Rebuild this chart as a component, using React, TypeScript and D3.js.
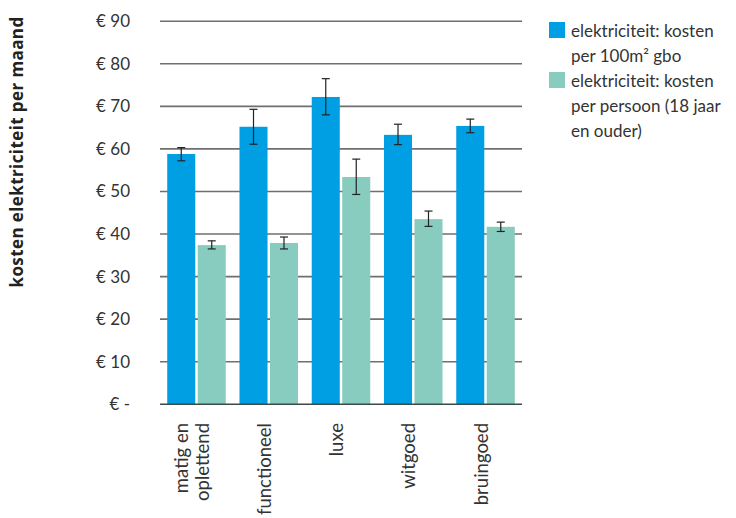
import React from "react";
import * as d3 from "d3";

const categories = ["matig en oplettend", "functioneel", "luxe", "witgoed", "bruingoed"];
const categoryLines = [["matig en", "oplettend"], ["functioneel"], ["luxe"], ["witgoed"], ["bruingoed"]];
const seriesNames = ["elektriciteit: kosten per 100m² gbo", "elektriciteit: kosten per persoon (18 jaar en ouder)"];
const legendLines = [["elektriciteit: kosten", "per 100m² gbo"], ["elektriciteit: kosten", "per persoon (18 jaar", "en ouder)"]];
const perArea = [58.8, 65.2, 72.2, 63.3, 65.4];
const perAreaLow = [57.2, 61.1, 68.0, 61.0, 63.8];
const perAreaHigh = [60.3, 69.3, 76.5, 65.8, 67.0];
const perPerson = [37.4, 37.9, 53.4, 43.5, 41.7];
const perPersonLow = [36.5, 36.5, 49.3, 41.8, 40.6];
const perPersonHigh = [38.4, 39.3, 57.6, 45.4, 42.8];
const yTicks = [0, 10, 20, 30, 40, 50, 60, 70, 80, 90];
const yTickLabels = ["€ -", "€ 10", "€ 20", "€ 30", "€ 40", "€ 50", "€ 60", "€ 70", "€ 80", "€ 90"];
const yTitle = "kosten elektriciteit per maand";
const colors = ["#009fe3", "#88cbbf"];

const W = 736, H = 518;
const plotLeft = 160, plotRight = 522, plotTop = 21.2, plotBottom = 404.3;
const font = "Lato, 'Noto Sans', sans-serif";

export default function App() {
  const x = d3.scaleBand<string>().domain(categories).range([plotLeft, plotRight]).paddingInner(0.19).paddingOuter(0.1);
  const x1 = d3.scaleBand<number>().domain([0, 1]).range([0, x.bandwidth()]).paddingInner(0.08);
  const y = d3.scaleLinear().domain([0, 90]).range([plotBottom, plotTop]);
  const series = [
    { v: perArea, lo: perAreaLow, hi: perAreaHigh },
    { v: perPerson, lo: perPersonLow, hi: perPersonHigh },
  ];
  return (
    <svg width={W} height={H} style={{ position: "absolute", left: 0, top: 0, background: "#fff" }} fontFamily={font}>
      {yTicks.filter(t => t > 0).map(t => (
        <line key={t} x1={plotLeft} x2={plotRight} y1={y(t)} y2={y(t)} stroke="#6f6f6f" strokeWidth={1.6} />
      ))}
      {yTicks.map((t, i) => (
        <text key={t} x={130} y={y(t)} dy="0.35em" textAnchor="end" fontSize={17} fill="#333">{yTickLabels[i]}</text>
      ))}
      <text transform={`translate(23,${152}) rotate(-90)`} textAnchor="middle" fontSize={17} fontWeight="bold" letterSpacing={0.4} fill="#222" fontFamily="'Open Sans', sans-serif">{yTitle}</text>
      {categories.map((c, ci) => (
        <g key={c} transform={`translate(${x(c)},0)`}>
          {series.map((s, si) => {
            const bx = x1(si)!;
            const bw = x1.bandwidth();
            const cx = bx + bw / 2;
            return (
              <g key={si}>
                <rect x={bx} width={bw} y={y(s.v[ci])} height={y(0) - y(s.v[ci])} fill={colors[si]} />
                <line x1={cx} x2={cx} y1={y(s.hi[ci])} y2={y(s.lo[ci])} stroke="#222" strokeWidth={1.2} />
                <line x1={cx - 4} x2={cx + 4} y1={y(s.hi[ci])} y2={y(s.hi[ci])} stroke="#222" strokeWidth={1.2} />
                <line x1={cx - 4} x2={cx + 4} y1={y(s.lo[ci])} y2={y(s.lo[ci])} stroke="#222" strokeWidth={1.2} />
              </g>
            );
          })}
        </g>
      ))}
      <line x1={plotLeft} x2={plotRight} y1={y(0)} y2={y(0)} stroke="#3a4a48" strokeWidth={1.4} />
      {categories.map((c, ci) => {
        const lines = categoryLines[ci];
        const cx = x(c)! + x.bandwidth() / 2;
        return lines.map((l, li) => {
          const lx = cx + (li - (lines.length - 1) / 2) * 21 + 2;
          return (
            <text key={c + li} transform={`translate(${lx},${423}) rotate(-90)`} textAnchor="end" fontSize={18.5} fill="#333">{l}</text>
          );
        });
      })}
      {legendLines.map((lines, si) => {
        const top = si === 0 ? 22 : 72;
        return (
          <g key={si}>
            <rect x={549} y={top} width={16} height={16} fill={colors[si]} />
            {lines.map((l, li) => (
              <text key={li} x={571} y={top + 15 + li * 25} fontSize={17} fill="#333">{l}</text>
            ))}
          </g>
        );
      })}
      <title>{seriesNames.join(" / ")}</title>
    </svg>
  );
}
